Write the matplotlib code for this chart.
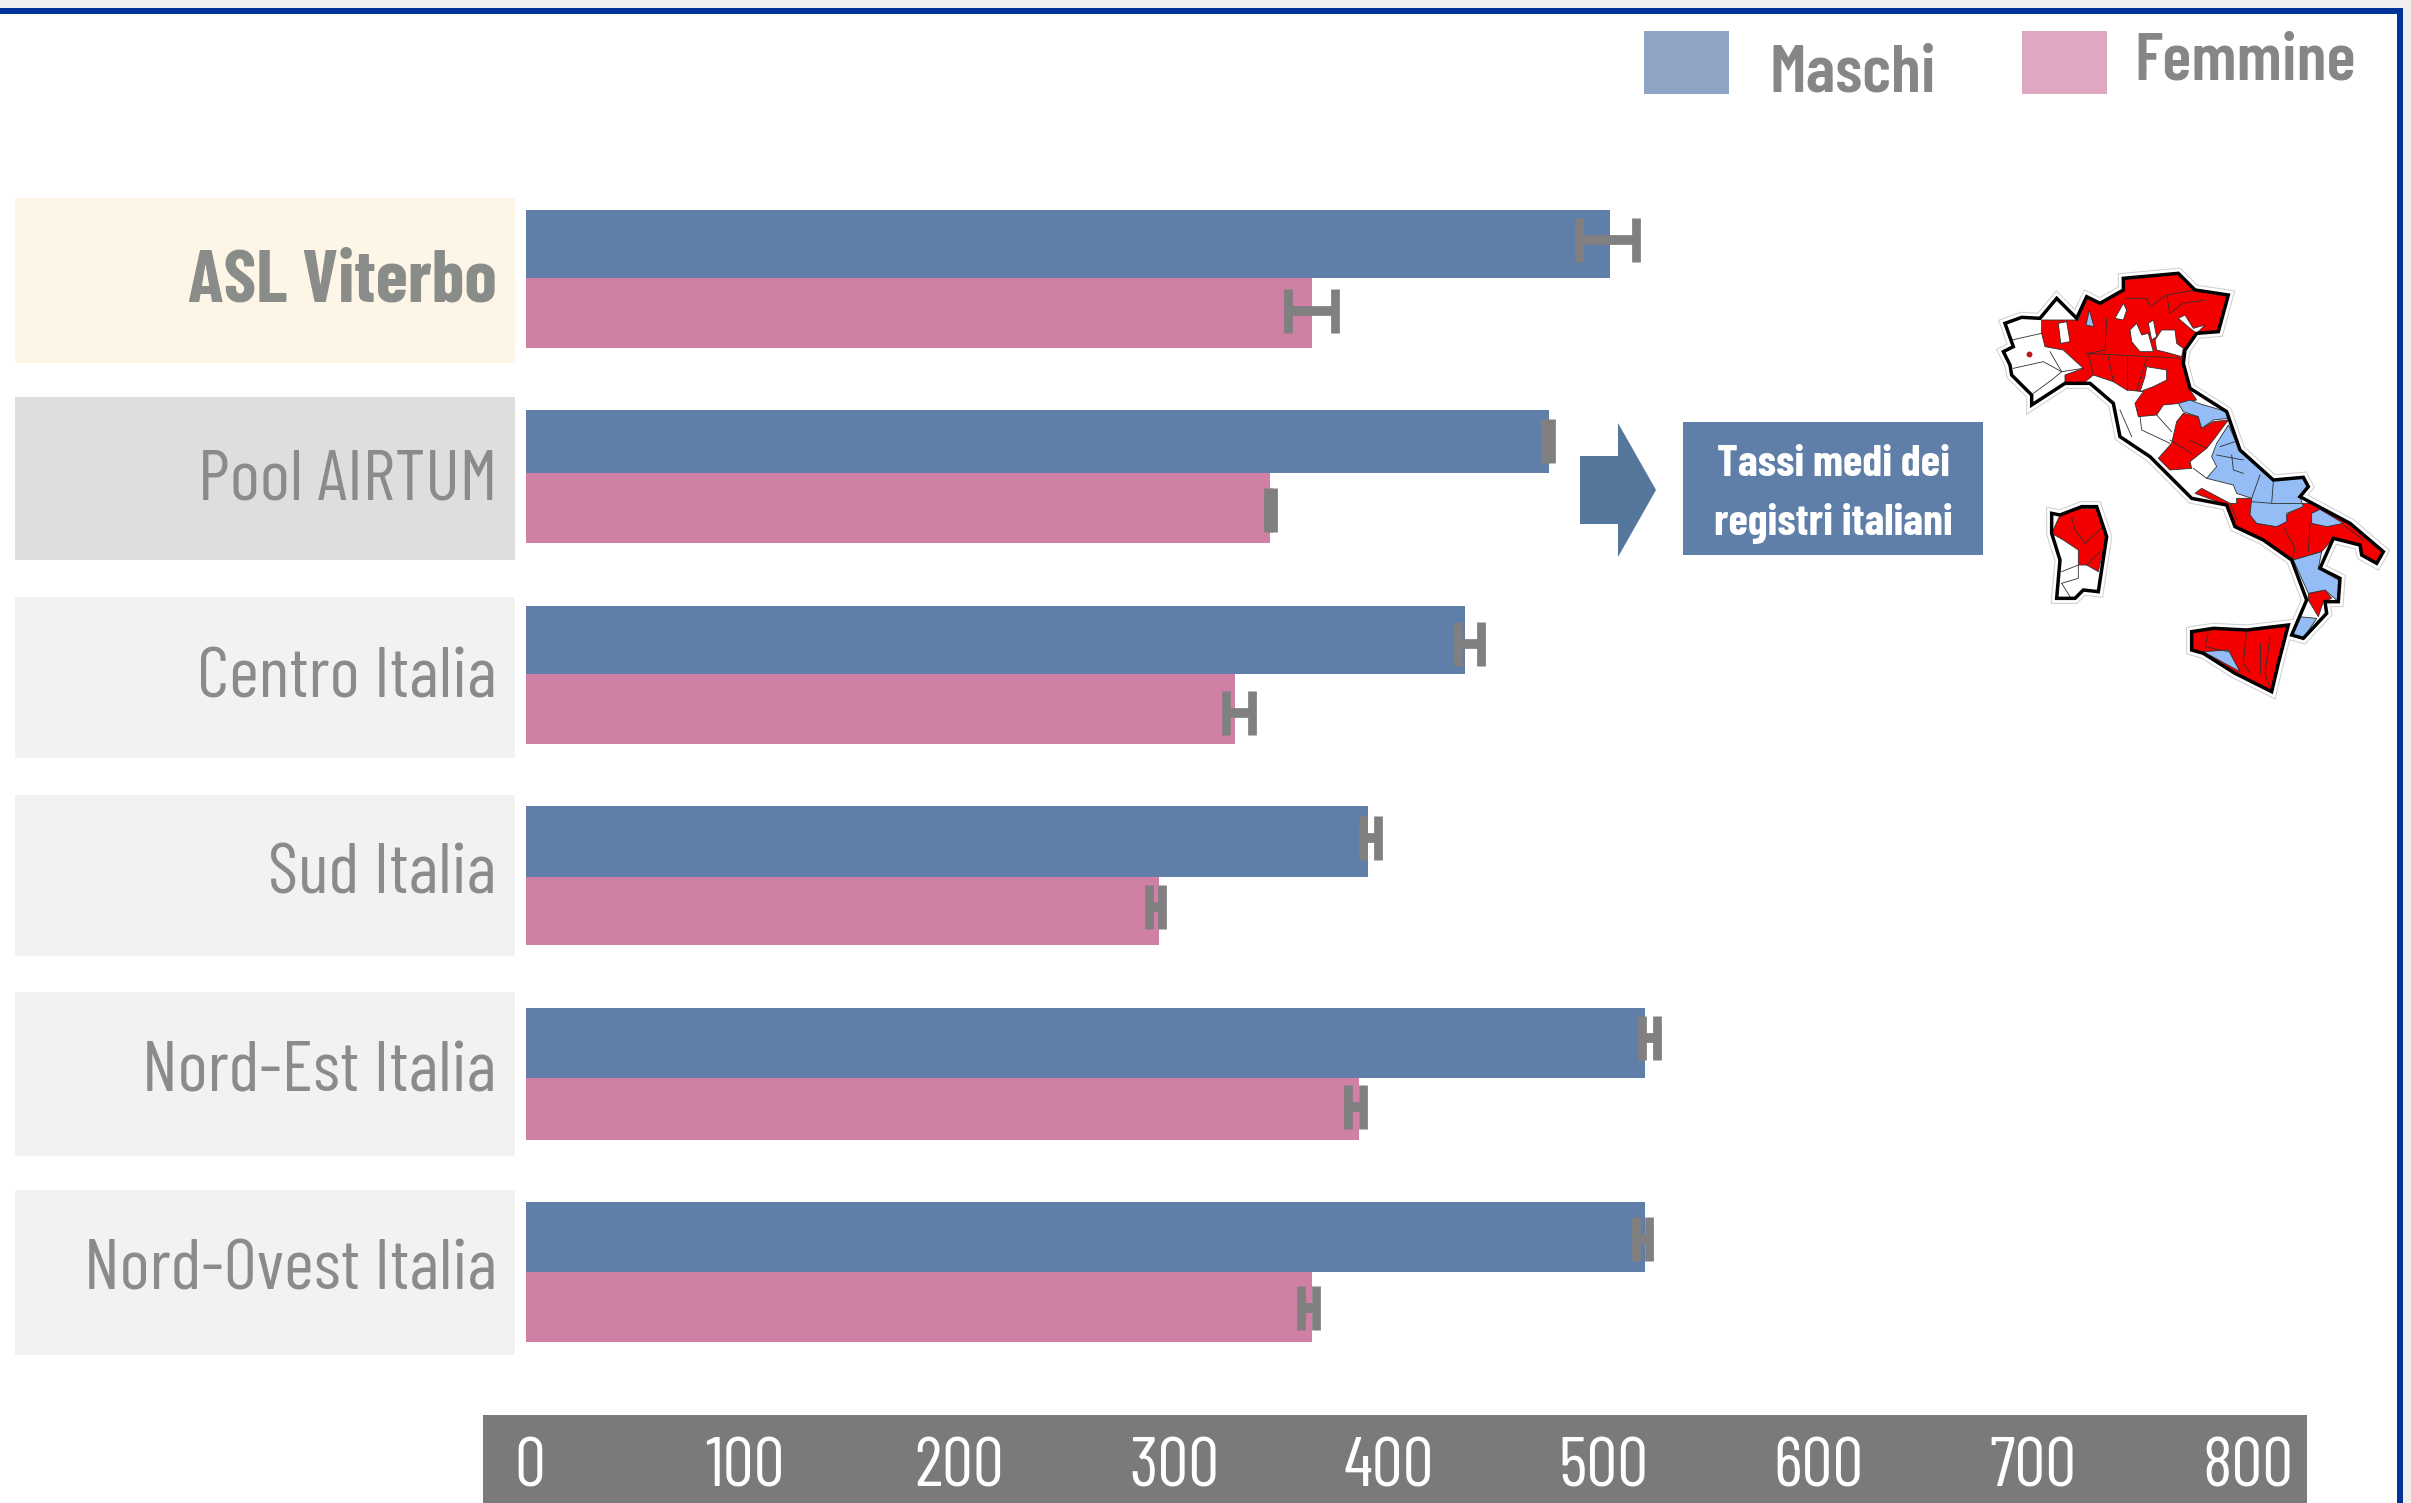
#!/usr/bin/env python3
"""Tassi per area (maschi / femmine) con intervalli di confidenza e mappa dei registri."""
import matplotlib
matplotlib.use("Agg")
import matplotlib.pyplot as plt
from matplotlib.patches import Polygon, Rectangle
from matplotlib.transforms import ScaledTranslation

matplotlib.rcParams["font.family"] = ["Barlow Condensed", "Roboto Condensed", "DejaVu Sans"]

W, H = 2411, 1503

# data
areas = ["ASL Viterbo", "Pool AIRTUM", "Centro Italia", "Sud Italia", "Nord-Est Italia", "Nord-Ovest Italia"]
maschi = [505, 476.5, 437.5, 392, 521, 521]
maschi_lo = [490.5, 474.5, 434, 390, 520, 517]
maschi_hi = [517, 477.5, 445, 397, 527, 523]
femmine = [366, 346.5, 330, 295, 388, 366]
femmine_lo = [355, 345.5, 326, 290, 383, 361]
femmine_hi = [377, 348, 338, 296, 390, 368]
x_ticks = [0, 100, 200, 300, 400, 500, 600, 700, 800]

# layout, in pixels of the picture
row_top = [210, 410, 606, 806, 1008, 1202]
row_mid = [278, 473, 674, 877, 1078, 1272]
row_bot = [348, 543, 744, 945, 1140, 1342]
err_y_m = [240, 441, 644, 838, 1038, 1239]
err_y_f = [311, 510, 713, 907, 1107, 1308]
panel_top = [198, 397, 597, 795, 992, 1190]
panel_bot = [363, 560, 758, 956, 1156, 1355]
panel_col = ["#fdf6e7", "#dedede", "#f2f2f2", "#f2f2f2", "#f2f2f2", "#f2f2f2"]
label_y = [276, 474, 672, 868, 1066, 1264]

BLUE = "#5f7fa8"
PINK = "#d07fa5"
GREY_TXT = "#8a8c8a"
ERR = "#808080"

fig = plt.figure(figsize=(W / 100, H / 100), dpi=100)
fig.patch.set_facecolor("white")

# background layer in pixel coordinates
bg = fig.add_axes([0, 0, 1, 1], zorder=0)
bg.set_xlim(0, W)
bg.set_ylim(H, 0)
bg.axis("off")

bg.add_patch(Rectangle((0, 0), W, 8, color="#efefef", lw=0))
bg.add_patch(Rectangle((2403, 0), W - 2403, H, color="#efefef", lw=0))
bg.add_patch(Rectangle((0, 8), 2403, 6, color="#003399", lw=0))
bg.add_patch(Rectangle((2397, 8), 6, H - 8, color="#003399", lw=0))

for top, bot, col in zip(panel_top, panel_bot, panel_col):
    bg.add_patch(Rectangle((15, top), 500, bot - top, color=col, lw=0))
bg.add_patch(Rectangle((483, 1415), 2307 - 483, H - 1415, color="#7a7a7a", lw=0))

# legend
bg.add_patch(Rectangle((1644, 31), 85, 63, color="#8fa3c4", lw=0))
bg.add_patch(Rectangle((2022, 31), 85, 63, color="#dfa8c2", lw=0))
bg.text(1770, 91, "Maschi", fontsize=49, weight="semibold", color="#858785", ha="left", va="baseline")
bg.text(2134, 80, "Femmine", fontsize=49, weight="semibold", color="#858785", ha="left", va="baseline")

# arrow and box
bg.add_patch(Polygon([(1580, 456), (1618, 456), (1618, 423), (1656, 490), (1618, 557), (1618, 524), (1580, 524)],
                     color="#55779b", lw=0))
bg.add_patch(Rectangle((1683, 422), 300, 133, color=BLUE, lw=0))
bg.text(1833, 465, "Tassi medi dei", fontsize=32, weight="bold", color="white", ha="center", va="center")
bg.text(1833, 523, "registri italiani", fontsize=32, weight="bold", color="white", ha="center", va="center")

# map, hand traced, coordinates of a 3x crop with origin (1950, 240)
RED = "#f50000"
LBLUE = "#94bdf5"


def mp(pts):
    return [(1950 + x / 3, 240 + y / 3) for x, y in pts]


mainland = [(165, 250), (215, 232), (270, 235), (320, 175), (380, 235), (410, 170), (450, 190), (520, 150),
            (520, 115), (685, 100), (735, 150), (835, 165), (805, 275), (740, 280), (705, 330), (700, 370),
            (720, 445), (830, 515), (870, 630), (970, 720), (1060, 712), (1075, 740), (1050, 770), (1200, 850),
            (1300, 935), (1280, 970), (1235, 945), (1230, 915), (1150, 895), (1110, 985), (1170, 1015),
            (1165, 1085), (1125, 1085), (1130, 1120), (1060, 1195), (1025, 1185), (1070, 1080), (1025, 960),
            (940, 900), (855, 860), (830, 795), (725, 775), (600, 650), (510, 590), (490, 490), (420, 430),
            (345, 430), (245, 495), (245, 465), (185, 405), (180, 375), (160, 335), (190, 320)]
sardinia = [(305, 820), (330, 825), (395, 800), (440, 800), (470, 890), (445, 1055), (400, 1050), (375, 1075),
            (320, 1075), (330, 960), (305, 880)]
sicily = [(725, 1175), (790, 1165), (890, 1170), (1015, 1155), (985, 1270), (965, 1355), (855, 1300), (760, 1240),
          (725, 1230)]

red_main = [
    [(275, 240), (345, 240), (385, 240), (410, 175), (450, 190), (520, 150), (520, 115), (685, 100), (735, 150),
     (835, 165), (805, 275), (740, 280), (705, 330), (700, 370), (720, 450), (740, 480), (690, 490), (640, 495),
     (620, 525), (565, 530), (555, 490), (580, 455), (530, 450), (490, 425), (430, 405), (400, 430), (345, 430),
     (345, 405), (400, 385), (340, 330), (285, 320), (275, 280)],
    [(680, 545), (700, 520), (745, 530), (755, 565), (790, 545), (835, 540), (790, 600), (770, 625), (720, 665),
     (725, 685), (660, 690), (625, 655), (665, 610)],
    [(860, 775), (905, 775), (905, 830), (920, 850), (980, 860), (1010, 825), (1060, 790), (1095, 790), (1200, 850),
     (1300, 935), (1280, 970), (1235, 945), (1230, 915), (1150, 895), (1115, 935), (1030, 960), (940, 900),
     (855, 860), (830, 795), (735, 760), (755, 745), (840, 790), (860, 790)],
    [(1075, 1060), (1125, 1050), (1145, 1075), (1120, 1085), (1105, 1130), (1075, 1080)],
]
white_main = [
    [(325, 250), (350, 245), (360, 305), (332, 310)],
    [(495, 235), (520, 190), (530, 210), (520, 240)],
    [(540, 270), (560, 250), (575, 285), (595, 280), (610, 335), (570, 335), (545, 305)],
    [(595, 250), (610, 240), (620, 290), (605, 300)],
    [(615, 300), (635, 270), (675, 270), (680, 310), (700, 325), (695, 350), (660, 340), (620, 330)],
    [(685, 235), (705, 225), (730, 265), (765, 255), (740, 280), (720, 265)],
    [(590, 380), (650, 390), (650, 420), (610, 440), (570, 455), (585, 410)],
]
blue_main = [
    [(685, 490), (720, 480), (745, 490), (830, 515), (835, 535), (790, 540), (755, 565), (745, 530), (700, 515)],
    [(835, 555), (870, 630), (970, 715), (1060, 712), (1075, 740), (1050, 770), (1060, 800), (1010, 820),
     (1010, 845), (980, 860), (920, 850), (900, 825), (905, 775), (860, 760), (850, 735), (770, 715), (800, 680),
     (785, 650), (800, 610)],
    [(1085, 820), (1110, 808), (1180, 850), (1130, 860), (1085, 850)],
    [(1030, 960), (1115, 935), (1105, 985), (1165, 1020), (1165, 1085), (1125, 1050), (1075, 1060)],
    [(1045, 1130), (1100, 1135), (1060, 1195), (1028, 1188)],
    [(408, 255), (418, 210), (432, 260)],
]
borders = [
    [(275, 280), (185, 300), (165, 335)], [(190, 385), (280, 365), (335, 395), (305, 420), (250, 460)],
    [(300, 335), (335, 395), (400, 385)], [(415, 340), (430, 405)], [(475, 350), (490, 425)],
    [(530, 350), (530, 450)], [(590, 355), (560, 450)], [(410, 340), (700, 355)], [(470, 235), (465, 330), (415, 340)],
    [(525, 175), (590, 175), (600, 200), (650, 165), (735, 150)], [(650, 165), (660, 220), (700, 190), (765, 180)],
    [(510, 510), (545, 590)], [(570, 530), (575, 570), (660, 610)], [(620, 525), (665, 575)],
    [(720, 600), (770, 625)], [(660, 600), (725, 640)], [(730, 685), (770, 715)], [(810, 620), (870, 600)],
    [(800, 645), (880, 660)], [(845, 645), (850, 690), (880, 700)], [(930, 705), (905, 775)],
    [(970, 725), (965, 790), (905, 785)], [(965, 790), (1060, 790)], [(1000, 860), (1035, 925), (1025, 960)],
    [(1080, 850), (1075, 935)], [(1180, 855), (1240, 900)], [(840, 790), (860, 840)],
]
red_sard = [(305, 880), (330, 825), (395, 805), (440, 805), (468, 890), (445, 995), (410, 975), (385, 975),
            (385, 930), (340, 900)]
borders_sard = [[(365, 830), (375, 870), (405, 910)], [(405, 910), (460, 860)], [(410, 975), (450, 935)],
                [(335, 995), (385, 975), (385, 1015), (335, 1030)], [(335, 1030), (360, 1070)]]
blue_sic = [(760, 1235), (835, 1230), (870, 1295)]
borders_sic = [[(775, 1175), (765, 1220), (835, 1235)], [(890, 1170), (880, 1270), (900, 1300)],
               [(930, 1210), (930, 1300)], [(960, 1190), (945, 1300), (960, 1345)]]

for shape in (mainland, sardinia, sicily):
    bg.add_patch(Polygon(mp(shape), closed=True, facecolor="white", edgecolor="#d0d0d0", lw=8, joinstyle="miter",
                         zorder=2))
    bg.add_patch(Polygon(mp(shape), closed=True, facecolor="white", edgecolor="white", lw=6.5, joinstyle="miter",
                         zorder=2.1))

clip_main = Polygon(mp(mainland), closed=True, transform=bg.transData)
clip_sard = Polygon(mp(sardinia), closed=True, transform=bg.transData)
clip_sic = Polygon(mp(sicily), closed=True, transform=bg.transData)


def region(pts, col, clip):
    p = bg.add_patch(Polygon(mp(pts), closed=True, facecolor=col, edgecolor="#303030", lw=0.6, zorder=3))
    p.set_clip_path(clip)


def lines(groups, clip):
    for pts in groups:
        xs, ys = zip(*mp(pts))
        ln, = bg.plot(xs, ys, color="#303030", lw=0.6, zorder=4)
        ln.set_clip_path(clip)


for pts in red_main:
    region(pts, RED, clip_main)
for pts in white_main:
    region(pts, "white", clip_main)
for pts in blue_main:
    region(pts, LBLUE, clip_main)
lines(borders, clip_main)
region(red_sard, RED, clip_sard)
lines(borders_sard, clip_sard)
region(sicily, RED, clip_sic)
region(blue_sic, LBLUE, clip_sic)
lines(borders_sic, clip_sic)
for shape in (mainland, sardinia, sicily):
    bg.add_patch(Polygon(mp(shape), closed=True, fill=False, edgecolor="black", lw=2.5, joinstyle="miter", zorder=5))
bg.scatter(*zip(*mp([(236, 343)])), s=18, color="#c01818", zorder=6, lw=0)

# chart layer: x axis in data units, y in pixels of the picture
ax = fig.add_axes([526 / W, 0, 2.147 * 800 / W, 1], zorder=1)
ax.patch.set_alpha(0)
ax.set_xlim(0, 800)
ax.set_ylim(H, 0)
for s in ax.spines.values():
    s.set_visible(False)

m_y = [(t + m) / 2 for t, m in zip(row_top, row_mid)]
f_y = [(m + b) / 2 for m, b in zip(row_mid, row_bot)]
m_h = [m - t for t, m in zip(row_top, row_mid)]
f_h = [b - m for m, b in zip(row_mid, row_bot)]

ax.barh(m_y, maschi, height=m_h, color=BLUE, lw=0)
ax.barh(f_y, femmine, height=f_h, color=PINK, lw=0)

err = dict(fmt="none", ecolor=ERR, elinewidth=7, capsize=16, capthick=6.3, zorder=3)
ax.errorbar(maschi, err_y_m,
            xerr=[[v - lo for v, lo in zip(maschi, maschi_lo)], [hi - v for v, hi in zip(maschi, maschi_hi)]], **err)
ax.errorbar(femmine, err_y_f,
            xerr=[[v - lo for v, lo in zip(femmine, femmine_lo)], [hi - v for v, hi in zip(femmine, femmine_hi)]], **err)

ax.set_yticks(label_y)
ax.set_yticklabels(areas, fontsize=52, weight="normal", color=GREY_TXT)
ax.get_yticklabels()[0].set_fontweight("bold")
ax.get_yticklabels()[0].set_fontsize(53)
ax.tick_params(axis="y", length=0, pad=21)

ax.set_xticks(x_ticks)
ax.set_xticklabels([str(t) for t in x_ticks], fontsize=50, weight="normal", color="white")
ax.tick_params(axis="x", length=0, pad=-47)
shift = ScaledTranslation(4 / 100, 0, fig.dpi_scale_trans)
for lab in ax.get_xticklabels():
    lab.set_transform(lab.get_transform() + shift)

fig.savefig("out.png", dpi=100)
